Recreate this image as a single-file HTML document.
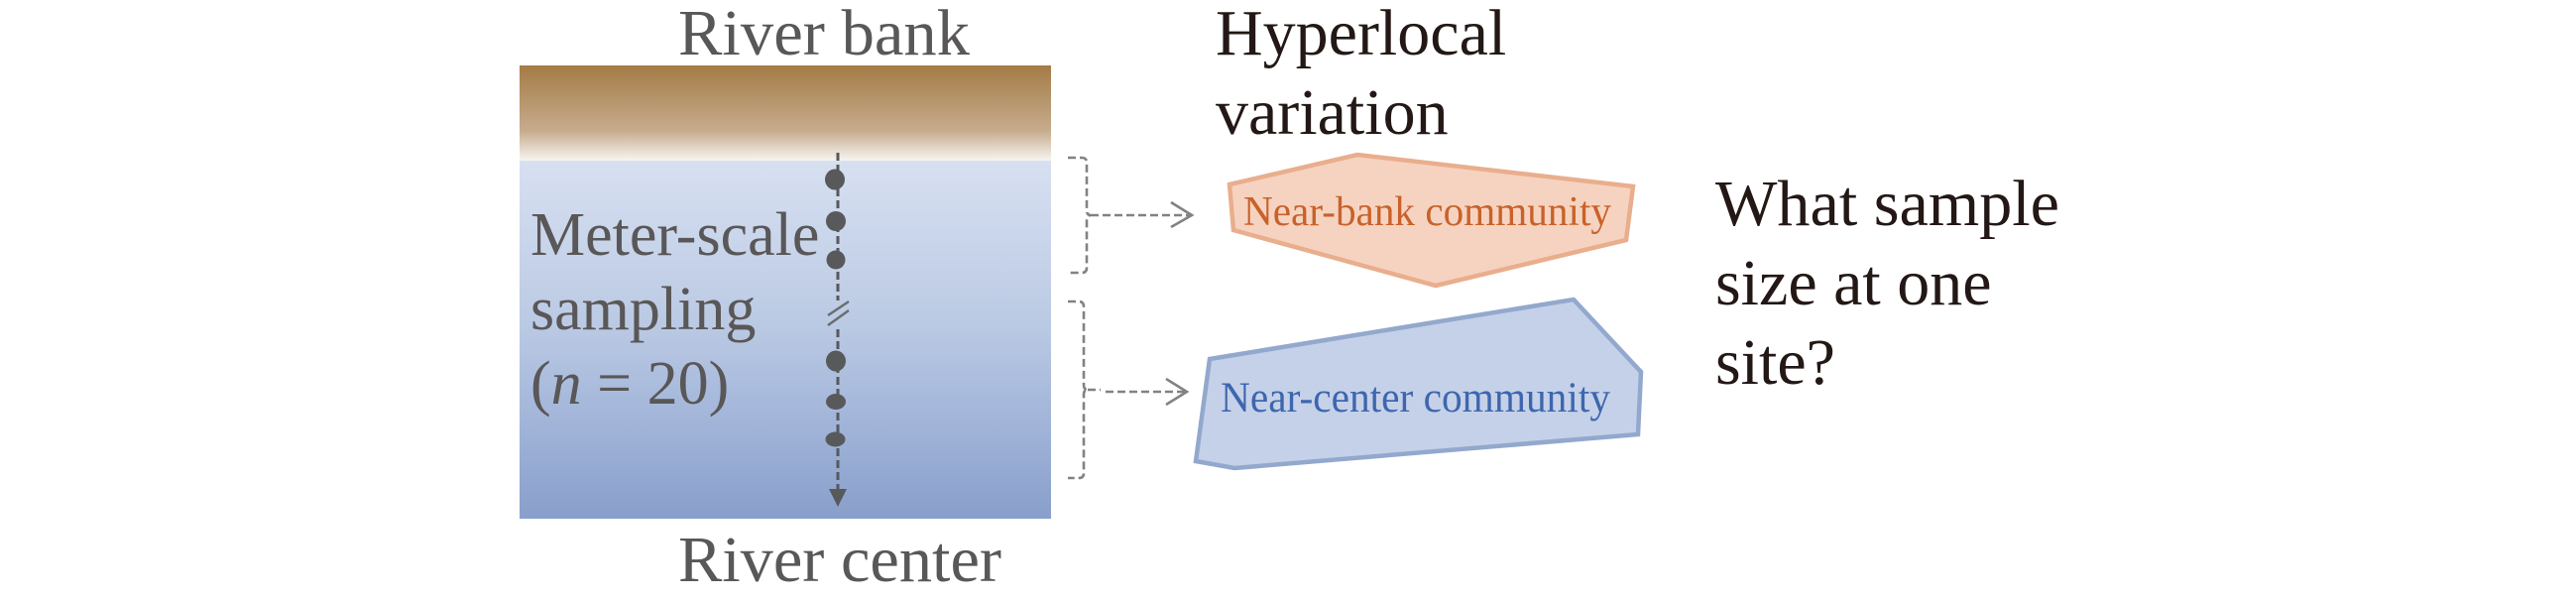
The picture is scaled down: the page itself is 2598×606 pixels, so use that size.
<!DOCTYPE html>
<html>
<head>
<meta charset="utf-8">
<style>
html,body{margin:0;padding:0;background:#fff;width:2598px;height:606px;overflow:hidden}
svg{display:block}
text{font-family:"Liberation Serif",serif;font-size:66px}
.g{fill:#595757}
.k{fill:#231815}
.s{font-size:62px}
</style>
</head>
<body>
<svg width="2598" height="606" viewBox="0 0 2598 606" xmlns="http://www.w3.org/2000/svg">
<defs>
<linearGradient id="bank" x1="0" y1="0" x2="0" y2="1">
<stop offset="0" stop-color="#A57A45"/>
<stop offset="0.25" stop-color="#B08D60"/>
<stop offset="0.68" stop-color="#C6AB8C"/>
<stop offset="0.85" stop-color="#E0D2C2"/>
<stop offset="1" stop-color="#F7F4F0"/>
</linearGradient>
<linearGradient id="water" x1="0" y1="0" x2="0" y2="1">
<stop offset="0" stop-color="#D7E0F1"/>
<stop offset="0.45" stop-color="#BBCAE4"/>
<stop offset="0.75" stop-color="#A0B3D8"/>
<stop offset="1" stop-color="#889FCB"/>
</linearGradient>
</defs>

<rect x="524" y="66" width="536" height="96" fill="url(#bank)"/>
<rect x="524" y="162" width="536" height="361" fill="url(#water)"/>

<text class="g" x="684" y="55" textLength="294" lengthAdjust="spacingAndGlyphs">River bank</text>
<text class="g" x="684" y="586" textLength="326" lengthAdjust="spacingAndGlyphs">River center</text>
<text class="g s" x="535" y="257">Meter-scale</text>
<text class="g s" x="535" y="332">sampling</text>
<text class="g s" x="535" y="407">(<tspan font-style="italic">n</tspan> = 20)</text>

<text class="k" x="1226" y="55">Hyperlocal</text>
<text class="k" x="1226" y="135">variation</text>
<text class="k" x="1730" y="227" textLength="347" lengthAdjust="spacingAndGlyphs">What sample</text>
<text class="k" x="1730" y="307">size at one</text>
<text class="k" x="1730" y="387">site?</text>

<!-- sampling line -->
<g stroke="#58595B" stroke-width="3" fill="none" stroke-dasharray="8 4">
<line x1="845" y1="154" x2="845" y2="303"/>
<line x1="845" y1="332" x2="845" y2="495"/>
</g>
<g stroke="#6A6C70" stroke-width="2.5" fill="none">
<line x1="835" y1="318" x2="856" y2="304"/>
<line x1="835" y1="328" x2="856" y2="313"/>
</g>
<g fill="#58595B">
<ellipse cx="842" cy="181" rx="10" ry="10.5"/>
<ellipse cx="843" cy="223" rx="10" ry="10"/>
<ellipse cx="843" cy="262" rx="9.5" ry="9.5"/>
<ellipse cx="843" cy="364" rx="10" ry="10.5"/>
<ellipse cx="843" cy="405" rx="10" ry="8"/>
<ellipse cx="842.5" cy="443" rx="10" ry="7.5"/>
<polygon points="836,493 854,493 845,511"/>
</g>

<!-- brackets -->
<g stroke="#808285" stroke-width="2.6" fill="none">
<path d="M1077 159 H1091 Q1096 159 1096 164 V212 Q1096 217 1100 217 Q1096 217 1096 222 V270 Q1096 275 1091 275 H1078" stroke-dasharray="8 4"/>
<path d="M1100 217 H1201" stroke-dasharray="8 4"/>
<path d="M1181 204 L1202 217 L1181 229"/>
<path d="M1077 304 H1088 Q1093 304 1093 309 V388 Q1093 393 1097 393 Q1093 393 1093 398 V477 Q1093 482 1088 482 H1077" stroke-dasharray="8 4"/>
<path d="M1097 393 H1110 M1115 395 H1196" stroke-dasharray="8 4"/>
<path d="M1176 382 L1197 395 L1176 408"/>
</g>

<!-- communities -->
<polygon points="1240,186 1369,156 1647,188 1640,242 1448,288 1244,232" fill="#F6D3C0" stroke="#E9AE8D" stroke-width="4.5"/>
<text x="1254" y="227" fill="#C8622A" style="font-size:42px" textLength="371" lengthAdjust="spacingAndGlyphs">Near-bank community</text>

<polygon points="1220,362 1587,302 1655,375 1652,438 1245,472 1206,465" fill="#C5D1E8" stroke="#93A8CD" stroke-width="4.5"/>
<text x="1231" y="415" fill="#3E66AE" style="font-size:43px" textLength="393" lengthAdjust="spacingAndGlyphs">Near-center community</text>
</svg>
</body>
</html>
